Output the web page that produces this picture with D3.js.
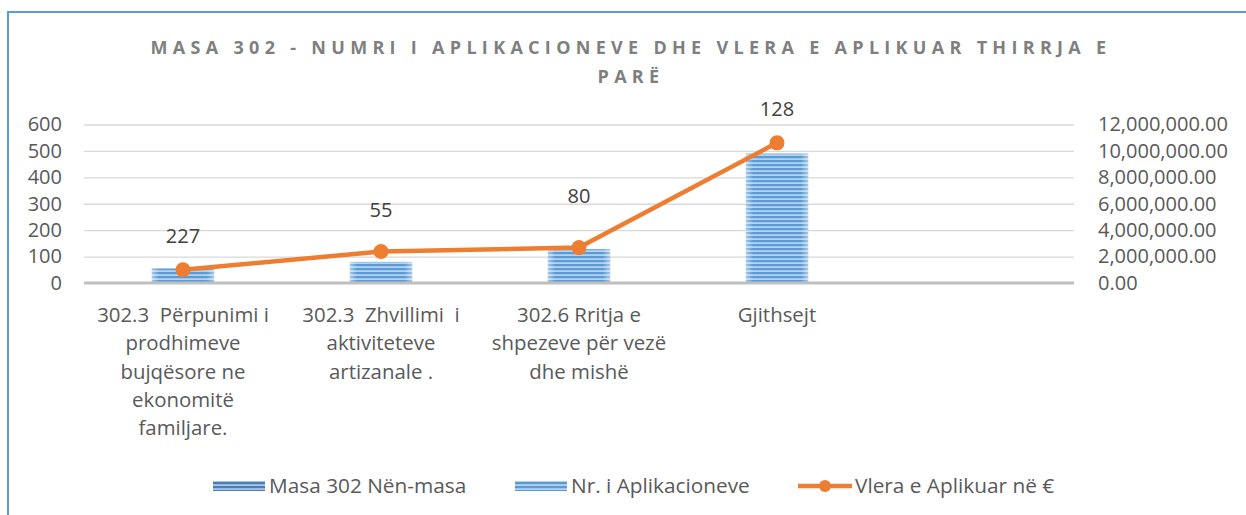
<!DOCTYPE html>
<html>
<head>
<meta charset="utf-8">
<script src="https://cdn.jsdelivr.net/npm/d3@7"></script>
<style>
  body { margin: 0; background: #fff; }
  text { font-family: "Open Sans", "Noto Sans", sans-serif; }
</style>
</head>
<body>
<div id="chart"></div>
<script>
// data
const categories = ['c1', 'c2', 'c3', 'c4', 'c5']
const categoryLines = [
  ['302.3  Përpunimi i', 'prodhimeve', 'bujqësore ne', 'ekonomitë', 'familjare.'],
  ['302.3  Zhvillimi  i', 'aktiviteteve', 'artizanale .'],
  ['302.6 Rritja e', 'shpezeve për vezë', 'dhe mishë'],
  ['Gjithsejt'],
  []
]
const nrAplikacioneve = [55, 80, 128, 490]
const vleraAplikuar = [1000000, 2380000, 2680000, 10610000]
const dataLabels = ['227', '55', '80', '128']
const leftTicks = [0, 100, 200, 300, 400, 500, 600]
const rightTicks = [0, 2000000, 4000000, 6000000, 8000000, 10000000, 12000000]
const seriesNames = ['Masa 302 Nën-masa', 'Nr. i Aplikacioneve', 'Vlera e Aplikuar në €']

const WIDTH = 1246
const HEIGHT = 515
const PLOT_LEFT = 84
const PLOT_RIGHT = 1074
const PLOT_TOP = 124.5
const PLOT_BOTTOM = 283
const ORANGE = '#ED7D31'
const TEXT = '#595959'
// les etiquettes ont été déplacées à la main dans l'original
const labelNudge = [0, -8, -18, 0]

const svg = d3.select('#chart').append('svg').attr('width', WIDTH).attr('height', HEIGHT)

// motifs rayés pour les barres
const defs = svg.append('defs')
function stripes(id, dark, light) {
  const p = defs.append('pattern').attr('id', id)
    .attr('patternUnits', 'userSpaceOnUse').attr('width', 8).attr('height', 4)
  p.append('rect').attr('width', 8).attr('height', 4).attr('fill', light)
  p.append('rect').attr('width', 8).attr('height', 2.2).attr('fill', dark)
}
stripes('stripeLight', '#5B9BD5', '#B4D1EE')
stripes('stripeDark', '#4A7EBB', '#A9C6E8')
const edge = defs.append('linearGradient').attr('id', 'edgeGlow')
edge.append('stop').attr('offset', '0%').attr('stop-color', '#fff').attr('stop-opacity', 0.45)
edge.append('stop').attr('offset', '12%').attr('stop-color', '#fff').attr('stop-opacity', 0)
edge.append('stop').attr('offset', '88%').attr('stop-color', '#fff').attr('stop-opacity', 0)
edge.append('stop').attr('offset', '100%').attr('stop-color', '#fff').attr('stop-opacity', 0.45)

// cadre bleu
svg.append('rect')
  .attr('x', 8).attr('y', 12).attr('width', 1260).attr('height', 530)
  .attr('fill', 'none').attr('stroke', '#5B9BD5').attr('stroke-width', 2)

// titre
const title = svg.append('text')
  .attr('x', 631).attr('y', 54)
  .attr('text-anchor', 'middle')
  .attr('font-size', 18).attr('font-weight', 'bold')
  .attr('letter-spacing', 5.3)
  .attr('fill', '#7F7F7F')
title.append('tspan').attr('x', 631).text('MASA 302 - NUMRI I APLIKACIONEVE DHE VLERA E APLIKUAR THIRRJA E')
title.append('tspan').attr('x', 631).attr('dy', 29).text('PARË')

// echelles
const xScale = d3.scaleBand().domain(categories).range([PLOT_LEFT, PLOT_RIGHT])
const yLeft = d3.scaleLinear().domain([0, 600]).range([PLOT_BOTTOM, PLOT_TOP])
const yRight = d3.scaleLinear().domain([0, 12000000]).range([PLOT_BOTTOM, PLOT_TOP])

// grille
svg.append('g')
  .attr('transform', `translate(${PLOT_LEFT}, 0)`)
  .call(d3.axisLeft(yLeft).tickValues(leftTicks.slice(1)).tickSize(-(PLOT_RIGHT - PLOT_LEFT)).tickFormat(''))
  .call(g => g.select('.domain').remove())
  .call(g => g.selectAll('line').attr('stroke', '#D9D9D9').attr('stroke-width', 1.3))

// axe gauche
svg.append('g')
  .attr('transform', `translate(${PLOT_LEFT}, 0)`)
  .call(d3.axisLeft(yLeft).tickValues(leftTicks).tickSize(0).tickPadding(22))
  .call(g => g.select('.domain').remove())
  .call(g => g.selectAll('text').attr('font-size', 20).attr('fill', TEXT).attr('font-family', '"Open Sans", sans-serif'))

// axe droit
svg.append('g')
  .attr('transform', `translate(${PLOT_RIGHT}, 0)`)
  .call(d3.axisRight(yRight).tickValues(rightTicks).tickSize(0).tickPadding(24).tickFormat(d3.format(',.2f')))
  .call(g => g.select('.domain').remove())
  .call(g => g.selectAll('text').attr('font-size', 20).attr('fill', TEXT).attr('font-family', '"Open Sans", sans-serif'))

// barres
const BAR_WIDTH = xScale.bandwidth() * 0.315
const bars = svg.append('g')
bars.selectAll('rect.bar')
  .data(nrAplikacioneve)
  .enter()
  .append('rect')
  .attr('class', 'bar')
  .attr('x', (d, i) => xScale(categories[i]) + xScale.bandwidth() / 2 - BAR_WIDTH / 2)
  .attr('width', BAR_WIDTH)
  .attr('y', d => yLeft(d))
  .attr('height', d => PLOT_BOTTOM - yLeft(d))
  .attr('fill', 'url(#stripeLight)')
bars.selectAll('rect.glow')
  .data(nrAplikacioneve)
  .enter()
  .append('rect')
  .attr('class', 'glow')
  .attr('x', (d, i) => xScale(categories[i]) + xScale.bandwidth() / 2 - BAR_WIDTH / 2)
  .attr('width', BAR_WIDTH)
  .attr('y', d => yLeft(d))
  .attr('height', d => PLOT_BOTTOM - yLeft(d))
  .attr('fill', 'url(#edgeGlow)')

// ligne du zero
svg.append('line')
  .attr('x1', PLOT_LEFT).attr('x2', PLOT_RIGHT)
  .attr('y1', yLeft(0)).attr('y2', yLeft(0))
  .attr('stroke', '#BFBFBF').attr('stroke-width', 3)

// etiquettes des categories
const catText = svg.append('g').selectAll('text')
  .data(categories)
  .enter()
  .append('text')
  .attr('text-anchor', 'middle')
  .attr('font-size', 20.4)
  .attr('fill', TEXT)
  .style('white-space', 'pre')
catText.each(function (d, i) {
  const cx = xScale(d) + xScale.bandwidth() / 2
  d3.select(this).selectAll('tspan')
    .data(categoryLines[i])
    .enter()
    .append('tspan')
    .attr('x', cx)
    .attr('y', (l, j) => 322 + j * 28.3)
    .text(l => l)
})

// ligne orange
const cx = (d, i) => xScale(categories[i]) + xScale.bandwidth() / 2
const line = d3.line().x(cx).y(d => yRight(d))
svg.append('path')
  .datum(vleraAplikuar)
  .attr('d', line)
  .attr('fill', 'none')
  .attr('stroke', ORANGE)
  .attr('stroke-width', 4.5)
  .attr('stroke-linejoin', 'round')
svg.append('g').selectAll('circle')
  .data(vleraAplikuar)
  .enter()
  .append('circle')
  .attr('cx', cx)
  .attr('cy', d => yRight(d))
  .attr('r', 7.5)
  .attr('fill', ORANGE)

// etiquettes de valeurs
svg.append('g').selectAll('text')
  .data(vleraAplikuar)
  .enter()
  .append('text')
  .attr('x', cx)
  .attr('y', (d, i) => yRight(d) - 27 + labelNudge[i])
  .attr('text-anchor', 'middle')
  .attr('font-size', 20)
  .attr('fill', '#404040')
  .text((d, i) => dataLabels[i])

// legende
const legend = svg.append('g').attr('transform', 'translate(0, 486)')
const legendX = [213, 515, 798]
legend.append('rect').attr('x', legendX[0]).attr('y', -5).attr('width', 52).attr('height', 10).attr('fill', 'url(#stripeDark)')
legend.append('rect').attr('x', legendX[1]).attr('y', -5).attr('width', 52).attr('height', 10).attr('fill', 'url(#stripeLight)')
legend.append('line').attr('x1', legendX[2]).attr('x2', legendX[2] + 54).attr('y1', 0).attr('y2', 0)
  .attr('stroke', ORANGE).attr('stroke-width', 4.5)
legend.append('circle').attr('cx', legendX[2] + 27).attr('cy', 0).attr('r', 6).attr('fill', ORANGE)
legend.selectAll('text.lbl')
  .data(seriesNames)
  .enter()
  .append('text')
  .attr('class', 'lbl')
  .attr('x', (d, i) => legendX[i] + (i === 2 ? 57 : 56))
  .attr('y', 7)
  .attr('font-size', 20.8)
  .attr('fill', TEXT)
  .text(d => d)
</script>
</body>
</html>
